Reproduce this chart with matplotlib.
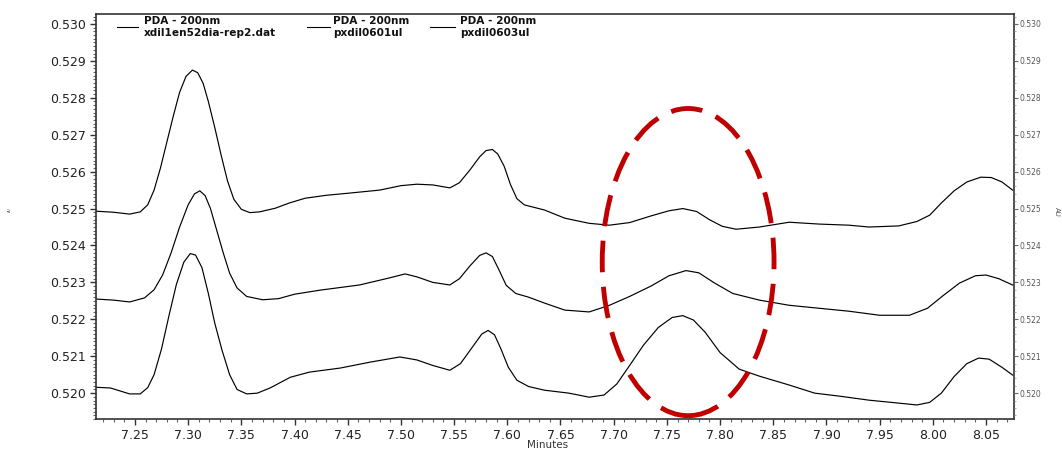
import matplotlib
matplotlib.use("Agg")
import matplotlib.pyplot as plt
from matplotlib.patches import Ellipse
from matplotlib.lines import Line2D
from matplotlib.ticker import MultipleLocator, FormatStrFormatter

plt.rcParams['font.family'] = ['DejaVu Sans']

# ---- data (minutes, AU) ----
top_x = [7.213, 7.230, 7.245, 7.255, 7.262, 7.268, 7.274, 7.280, 7.286, 7.292, 7.298, 7.304,
         7.309, 7.314, 7.319, 7.325, 7.331, 7.337, 7.343, 7.350, 7.358, 7.367, 7.382, 7.395,
         7.410, 7.430, 7.452, 7.480, 7.500, 7.515, 7.530, 7.546, 7.555, 7.565, 7.574, 7.580,
         7.586, 7.591, 7.597, 7.603, 7.609, 7.616, 7.635, 7.654, 7.677, 7.696, 7.715, 7.735,
         7.752, 7.765, 7.778, 7.790, 7.802, 7.815, 7.837, 7.865, 7.893, 7.921, 7.940, 7.968,
         7.985, 7.997, 8.008, 8.020, 8.032, 8.045, 8.055, 8.065, 8.075]
top_y = [0.52493, 0.52490, 0.52485, 0.52491, 0.52510, 0.52550, 0.52610, 0.52680, 0.52750, 0.52815,
         0.52858, 0.52875, 0.52868, 0.52840, 0.52790, 0.52720, 0.52645, 0.52575, 0.52525, 0.52498,
         0.52489, 0.52491, 0.52501, 0.52515, 0.52528, 0.52536, 0.52542, 0.52550, 0.52562, 0.52566,
         0.52564, 0.52556, 0.52570, 0.52605, 0.52640, 0.52657, 0.52660, 0.52648, 0.52615, 0.52565,
         0.52527, 0.52510, 0.52496, 0.52474, 0.52460, 0.52455, 0.52462, 0.52480, 0.52494, 0.52500,
         0.52492, 0.52470, 0.52452, 0.52444, 0.52450, 0.52463, 0.52458, 0.52455, 0.52450, 0.52453,
         0.52465, 0.52482, 0.52515, 0.52548, 0.52572, 0.52585, 0.52584, 0.52572, 0.52550]

mid_x = [7.213, 7.230, 7.245, 7.259, 7.268, 7.276, 7.284, 7.292, 7.300, 7.306, 7.311, 7.316,
         7.321, 7.327, 7.333, 7.339, 7.346, 7.355, 7.370, 7.385, 7.400, 7.424, 7.461, 7.489,
         7.504, 7.515, 7.530, 7.546, 7.555, 7.565, 7.574, 7.580, 7.586, 7.592, 7.599, 7.608,
         7.620, 7.635, 7.654, 7.677, 7.696, 7.715, 7.735, 7.752, 7.768, 7.780, 7.795, 7.812,
         7.837, 7.865, 7.893, 7.921, 7.950, 7.978, 7.995, 8.010, 8.025, 8.040, 8.050, 8.062,
         8.075]
mid_y = [0.52255, 0.52252, 0.52247, 0.52258, 0.52280, 0.52320, 0.52380, 0.52450, 0.52510, 0.52540,
         0.52548, 0.52535, 0.52500, 0.52440, 0.52380, 0.52325, 0.52285, 0.52262, 0.52253, 0.52256,
         0.52268, 0.52279, 0.52293, 0.52312, 0.52323, 0.52315, 0.52300, 0.52293, 0.52310, 0.52345,
         0.52373, 0.52380, 0.52370, 0.52335, 0.52292, 0.52270, 0.52260, 0.52244, 0.52225, 0.52220,
         0.52238, 0.52262, 0.52290, 0.52318, 0.52332, 0.52326, 0.52298, 0.52270, 0.52252, 0.52238,
         0.52230, 0.52222, 0.52211, 0.52211, 0.52230, 0.52265, 0.52298, 0.52318, 0.52320, 0.52310,
         0.52293]

bot_x = [7.213, 7.227, 7.245, 7.255, 7.262, 7.268, 7.275, 7.282, 7.289, 7.296, 7.302, 7.307,
         7.313, 7.319, 7.325, 7.332, 7.339, 7.346, 7.355, 7.365, 7.377, 7.396, 7.414, 7.443,
         7.471, 7.499, 7.515, 7.530, 7.546, 7.556, 7.566, 7.576, 7.582, 7.588, 7.594, 7.601,
         7.609, 7.620, 7.635, 7.658, 7.677, 7.691, 7.703, 7.715, 7.728, 7.742, 7.755, 7.765,
         7.775, 7.786, 7.800, 7.818, 7.837, 7.865, 7.889, 7.912, 7.940, 7.968, 7.985, 7.997,
         8.008, 8.020, 8.032, 8.043, 8.053, 8.065, 8.075]
bot_y = [0.52016, 0.52014, 0.51998, 0.51998, 0.52015, 0.52050, 0.52120, 0.52210, 0.52295, 0.52355,
         0.52378, 0.52374, 0.52340, 0.52270, 0.52190, 0.52115, 0.52050, 0.52010, 0.51998, 0.52000,
         0.52014, 0.52043, 0.52057, 0.52068, 0.52084, 0.52098, 0.52090, 0.52075, 0.52062, 0.52080,
         0.52120, 0.52160, 0.52170, 0.52158, 0.52120, 0.52070, 0.52035, 0.52018, 0.52008, 0.52000,
         0.51989, 0.51995, 0.52025, 0.52075, 0.52130, 0.52178, 0.52205, 0.52210, 0.52198, 0.52165,
         0.52110, 0.52065, 0.52046, 0.52022, 0.52000, 0.51992, 0.51981, 0.51973, 0.51968, 0.51975,
         0.52000, 0.52045, 0.52080, 0.52095, 0.52092, 0.52070, 0.52049]

series_labels = ["PDA - 200nm\nxdil1en52dia-rep2.dat",
                 "PDA - 200nm\npxdil0601ul",
                 "PDA - 200nm\npxdil0603ul"]

x_min, x_max = 7.2134, 8.0763
y_min, y_max = 0.51930, 0.53027
ellipse_center = (7.770, 0.52355)
ellipse_w, ellipse_h = 0.1615, 0.00832

W, H = 1062, 450

# ---- figure ----
fig = plt.figure(figsize=(W / 100, H / 100), dpi=100)
ax = fig.add_axes([96 / W, 1 - 419 / H, (1014 - 96) / W, (419 - 14) / H])

lines = []
for xs, ys in zip([top_x, mid_x, bot_x], [top_y, mid_y, bot_y]):
    l, = ax.plot(xs, ys, color='black', lw=0.85, solid_joinstyle='round')
    lines.append(l)

ax.set_xlim(x_min, x_max)
ax.set_ylim(y_min, y_max)

ax.xaxis.set_major_locator(MultipleLocator(0.05))
ax.xaxis.set_minor_locator(MultipleLocator(0.01))
ax.xaxis.set_major_formatter(FormatStrFormatter('%.2f'))
ax.yaxis.set_major_locator(MultipleLocator(0.001))
ax.yaxis.set_minor_locator(MultipleLocator(0.0001))
ax.yaxis.set_major_formatter(FormatStrFormatter('%.3f'))

ax.tick_params(axis='both', which='major', direction='out', length=4, width=1,
               labelsize=9, colors='#333333', labelcolor='#222222')
ax.tick_params(axis='y', pad=3)
ax.tick_params(axis='x', pad=3)
ax.tick_params(axis='both', which='minor', direction='out', length=2, width=0.8, colors='#666666')
for s in ax.spines.values():
    s.set_color('#333333')
    s.set_linewidth(1.2)

ax2 = ax.twinx()
ax2.set_ylim(y_min, y_max)
ax2.yaxis.set_major_locator(MultipleLocator(0.001))
ax2.yaxis.set_minor_locator(MultipleLocator(0.0002))
ax2.yaxis.set_major_formatter(FormatStrFormatter('%.3f'))
ax2.tick_params(axis='y', which='major', direction='out', length=3, width=0.8,
                labelsize=5.5, colors='#666666', labelcolor='#555555', pad=1)
ax2.tick_params(axis='y', which='minor', direction='out', length=1.5, width=0.6, colors='#999999')
for s in ax2.spines.values():
    s.set_visible(False)

ell = Ellipse(ellipse_center, ellipse_w, ellipse_h, fill=False, edgecolor='#c00000',
              lw=3.5, linestyle=(0, (6.5, 3.0)), zorder=5)
ax.add_patch(ell)

# legend (line sample + two-line bold label per series)
leg_line_x = [(117, 138), (307, 330), (430, 455)]
leg_text_x = [144, 333, 460]
for line, lab, (x0, x1), tx in zip(lines, series_labels, leg_line_x, leg_text_x):
    fig.add_artist(Line2D([x0 / W, x1 / W], [1 - 27 / H, 1 - 27 / H],
                          color=line.get_color(), lw=0.8, transform=fig.transFigure))
    fig.text(tx / W, 1 - 16 / H, lab, ha='left', va='top', fontsize=7.6,
             fontweight='bold', linespacing=1.25, color='#111111')

fig.text(548 / W, 1 - 440 / H, 'Minutes', ha='center', va='top', fontsize=7.5, color='#333333')
fig.text(1057 / W, 1 - 212 / H, 'AU', ha='center', va='center', fontsize=5,
         rotation=270, color='#555555')
fig.text(10 / W, 1 - 210 / H, 'AU', ha='center', va='center', fontsize=2.5,
         rotation=90, color='#555555')

fig.savefig('out.png', dpi=100)
